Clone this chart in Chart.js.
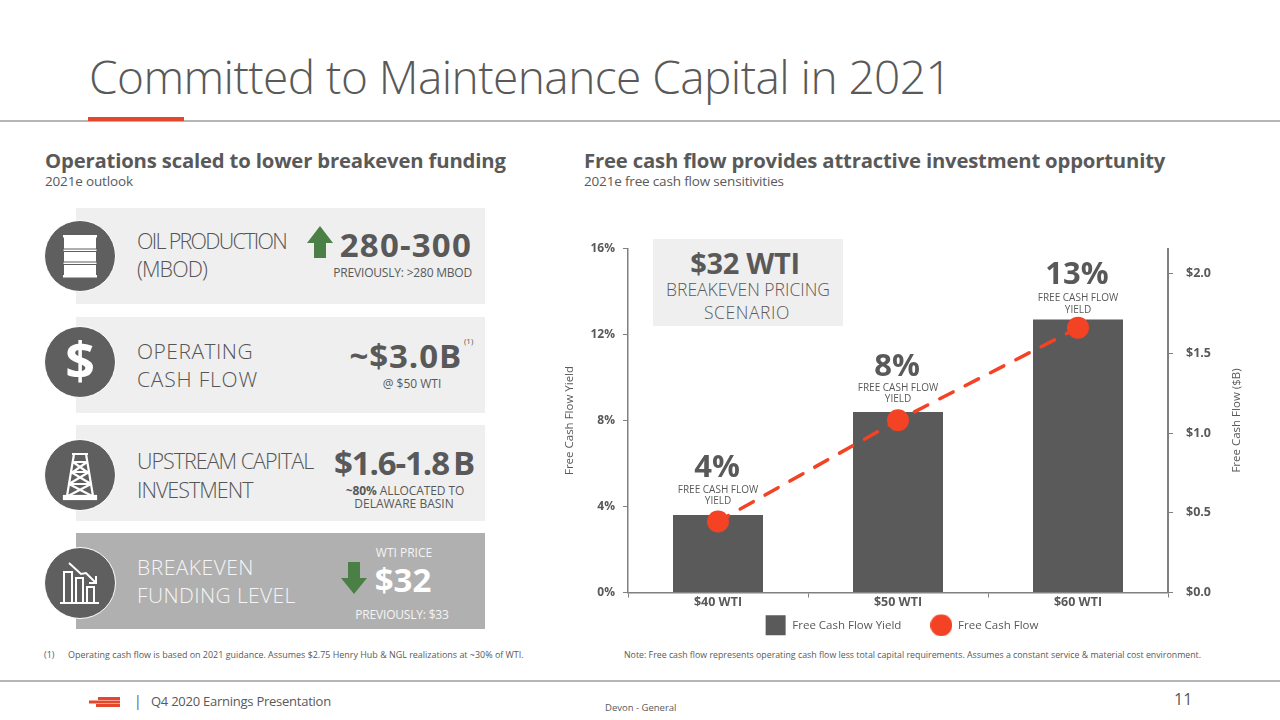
<!DOCTYPE html>
<html>
<head>
<meta charset="utf-8">
<script src="https://cdn.jsdelivr.net/npm/chart.js@4"></script>
<style>
html,body{margin:0;padding:0;background:#fff}
body{width:1280px;height:720px;position:relative;overflow:hidden;font-family:"Open Sans",sans-serif;color:#595959}
.t{position:absolute;white-space:nowrap;line-height:1;transform:translateY(-50%)}
.c{transform:translate(-50%,-50%)}
.b{font-weight:700}
.l{font-weight:300}
.box{position:absolute;left:76px;width:409px;height:96px;background:#efefef}
.disc{position:absolute;width:70px;height:70px;border-radius:50%;background:#5f5f5f;border:1.5px solid #fff;box-sizing:content-box}
.disc svg{position:absolute;left:0;top:0}
.big{font-weight:700;font-size:33px}
.lab{font-size:21px;font-weight:300;color:#555}
.sm{font-size:12px}
#wrap{position:absolute;left:558px;top:228px;width:687px;height:413px}
</style>
</head>
<body>
<div class="t l" style="left:89px;top:76px;font-size:46px;letter-spacing:-.55px;color:#595959">Committed to Maintenance Capital in 2021</div>
<div style="position:absolute;left:0;top:120px;width:1280px;height:2px;background:#b5b5b5"></div>
<div style="position:absolute;left:88px;top:117px;width:96px;height:4px;background:#e4472b"></div>

<div class="t b" style="left:45px;top:160px;font-size:20.3px;letter-spacing:-.17px">Operations scaled to lower breakeven funding</div>
<div class="t" style="left:45px;top:182px;font-size:13.5px;letter-spacing:-.16px">2021e outlook</div>
<div class="t b" style="left:584px;top:160px;font-size:20.3px;letter-spacing:-.18px">Free cash flow provides attractive investment opportunity</div>
<div class="t" style="left:584px;top:182px;font-size:13.5px;letter-spacing:-.17px">2021e free cash flow sensitivities</div>

<div class="box" style="top:208px"></div>
<div class="box" style="top:317px"></div>
<div class="box" style="top:425px"></div>
<div class="box" style="top:533px;background:#b0b0b0"></div>

<div class="disc" style="left:44px;top:220px"><svg width="70" height="70" fill="#fff">
<rect x="19" y="15" width="32" height="40"/><rect x="18" y="14" width="34" height="2.5"/><rect x="18" y="28" width="34" height="2.5" stroke="#5f5f5f" stroke-width="1"/><rect x="18" y="41" width="34" height="2.5" stroke="#5f5f5f" stroke-width="1"/><rect x="18" y="54" width="34" height="2.5"/></svg></div>
<div class="disc" style="left:44px;top:326px"><svg width="70" height="70"><text x="35" y="53" text-anchor="middle" font-family="Open Sans" font-weight="700" font-size="52" fill="#fff">$</text></svg></div>
<div class="disc" style="left:44px;top:439px"><svg width="70" height="70" fill="none" stroke="#fff" stroke-width="2.2">
<path d="M27 14h16M29 14L22 56M41 14L48 56M28 22h14M26 32h18M24 44h22M28 22L42 32M42 22L28 32M26 32L46 44M44 32L24 44M24 44L47 56M46 44L23 56"/><rect x="19" y="56" width="32" height="3" fill="#fff"/></svg></div>
<div class="disc" style="left:44px;top:547px"><svg width="70" height="70" fill="none" stroke="#fff" stroke-width="2">
<path d="M15 55h39M19 55V24h8v31M31 55V30h7v25M42 55V39h7v16"/><path d="M24 15l12 11 5-1 10 10M51 28v7h-7"/></svg></div>

<div class="t lab" style="left:137px;top:241px;font-size:21.5px;letter-spacing:-1.7px">OIL PRODUCTION</div>
<div class="t lab" style="left:137px;top:269px;font-size:21.5px;letter-spacing:-.9px">(MBOD)</div>
<div class="t lab" style="left:137px;top:351px;letter-spacing:.5px">OPERATING</div>
<div class="t lab" style="left:137px;top:379px;letter-spacing:.8px">CASH FLOW</div>
<div class="t lab" style="left:137px;top:461px;font-size:21.5px;letter-spacing:-1px">UPSTREAM CAPITAL</div>
<div class="t lab" style="left:137px;top:490px;font-size:21.5px;letter-spacing:-1px">INVESTMENT</div>
<div class="t lab" style="left:137px;top:567px;color:#f5f5f5;letter-spacing:.5px">BREAKEVEN</div>
<div class="t lab" style="left:137px;top:595px;color:#f5f5f5;letter-spacing:.4px">FUNDING LEVEL</div>

<svg style="position:absolute;left:0;top:0" width="1280" height="720" fill="#4a7f45">
<path d="M320 226L333 243H326V258H314V243H307Z"/>
<path d="M354 594L341 578H348V562H360V578H367Z"/>
</svg>

<div class="t big" style="right:808px;top:244px;letter-spacing:1.2px">280-300</div>
<div class="t sm" style="right:808px;top:273px;letter-spacing:-.2px">PREVIOUSLY: &gt;280 MBOD</div>
<div class="t big" style="right:818px;top:355px;letter-spacing:.9px">~$3.0B</div>
<div class="t" style="left:464px;top:341px;font-size:8px">(1)</div>
<div class="t sm c" style="left:412px;top:384px">@ $50 WTI</div>
<div class="t big" style="right:806px;top:462px;letter-spacing:-1.1px">$1.6-1.8<span style="margin-left:4px">B</span></div>
<div class="t sm c" style="left:405px;top:491px;letter-spacing:-.1px"><b>~80%</b> ALLOCATED TO</div>
<div class="t sm c" style="left:404px;top:504px">DELAWARE BASIN</div>
<div class="t sm c" style="left:404px;top:553px;color:#f5f5f5">WTI PRICE</div>
<div class="t big c" style="left:403px;top:579px;color:#fff">$32</div>
<div class="t sm c" style="left:402px;top:615px;color:#f5f5f5;letter-spacing:-.2px">PREVIOUSLY: $33</div>

<div class="t" style="left:44px;top:655px;font-size:8.95px">(1)</div>
<div class="t" style="left:68px;top:655px;font-size:8.95px">Operating cash flow is based on 2021 guidance. Assumes $2.75 Henry Hub &amp; NGL realizations at ~30% of WTI.</div>

<div style="position:absolute;left:653px;top:239px;width:190px;height:87px;background:#efefef"></div>
<div class="t b c" style="left:745px;top:262px;font-size:29px;letter-spacing:-.3px">$32 WTI</div>
<div class="t l c" style="left:748px;top:290px;font-size:17.5px">BREAKEVEN PRICING</div>
<div class="t l c" style="left:747px;top:313px;font-size:17.5px;letter-spacing:.6px">SCENARIO</div>

<div id="wrap"><canvas id="fcfChart"></canvas></div>

<div class="t" style="left:624px;top:655px;font-size:8.8px">Note: Free cash flow represents operating cash flow less total capital requirements. Assumes a constant service &amp; material cost environment.</div>

<div style="position:absolute;left:0;top:680px;width:1280px;height:1.5px;background:#b5b5b5"></div>
<svg style="position:absolute;left:88px;top:696px" width="34" height="12" fill="#e4472b">
<rect x="10" y="1" width="22" height="3"/><rect x="1" y="4.5" width="31" height="3"/><rect x="8" y="8" width="24" height="3"/></svg>
<div class="t" style="left:134px;top:701px;font-size:14px">|</div>
<div class="t" style="left:151px;top:701px;font-size:13px;letter-spacing:-.25px">Q4 2020 Earnings Presentation</div>
<div class="t" style="left:1174px;top:699px;font-size:16px">11</div>
<div class="t" style="left:605px;top:708px;font-size:9.5px">Devon - General</div>

<script>
const categories = ['$40 WTI', '$50 WTI', '$60 WTI'];
const fcfYield = [3.6, 8.4, 12.7];
const fcfBillions = [0.445, 1.08, 1.66];
const yieldLabels = ['4%', '8%', '13%'];
const yieldCaption = ['FREE CASH FLOW', 'YIELD'];
const seriesNames = ['Free Cash Flow Yield', 'Free Cash Flow'];
const rightTitle = 'Free Cash Flow ($B)';

const grey = '#5a5a5a';
const red = '#f44225';
const axisGrey = '#808080';

function legendMark(shape, color) {
    const c = document.createElement('canvas');
    c.width = 22; c.height = 22;
    const g = c.getContext('2d');
    g.fillStyle = color;
    if (shape === 'rect') {
        g.fillRect(1, 1, 20, 20);
    } else {
        g.beginPath();
        g.arc(11, 11, 11, 0, Math.PI * 2);
        g.fill();
    }
    return c;
}

// labels over the bars plus the right axis title, which reads upwards
const barLabels = {
    id: 'barLabels',
    afterDatasetsDraw(chart) {
        const ctx = chart.ctx;
        const yScale = chart.scales.y;
        const xScale = chart.scales.x;
        const bigLift = [2, 0, -1];
        const capLift = [1, 0, -3];
        ctx.save();
        ctx.textAlign = 'center';
        ctx.textBaseline = 'middle';
        ctx.fillStyle = '#595959';
        yieldLabels.forEach((label, i) => {
            const x = xScale.getPixelForValue(i);
            const top = yScale.getPixelForValue(fcfYield[i]);
            ctx.font = '700 31px "Open Sans"';
            ctx.fillText(label, x - 1, top - 45 - bigLift[i]);
            ctx.font = '10px "Open Sans"';
            yieldCaption.forEach((line, j) => {
                ctx.fillText(line, x, top - 24 + j * 11.5 - capLift[i]);
            });
        });
        const right = chart.scales.y1;
        ctx.translate(right.left + 69, (right.top + right.bottom) / 2);
        ctx.rotate(-Math.PI / 2);
        ctx.font = '11.5px "Open Sans"';
        ctx.fillText(rightTitle, 0, 0);
        ctx.restore();
    }
};

new Chart(document.getElementById('fcfChart'), {
    type: 'bar',
    data: {
        labels: categories,
        datasets: [{
            label: seriesNames[0],
            data: fcfYield,
            backgroundColor: grey,
            barPercentage: 0.5,
            categoryPercentage: 1,
            yAxisID: 'y',
            order: 2
        }, {
            type: 'line',
            label: seriesNames[1],
            data: fcfBillions,
            yAxisID: 'y1',
            borderColor: red,
            backgroundColor: red,
            borderWidth: 3.5,
            borderDash: [15, 13.5],
            borderDashOffset: 3,
            borderCapStyle: 'round',
            pointRadius: 11,
            pointBackgroundColor: red,
            pointBorderWidth: 0,
            tension: 0,
            order: 1
        }]
    },
    options: {
        responsive: true,
        maintainAspectRatio: false,
        animation: false,
        devicePixelRatio: 1,
        layout: { padding: 0 },
        scales: {
            x: {
                offset: true,
                grid: { display: true, drawOnChartArea: false, drawTicks: true, tickLength: 5, color: axisGrey, offset: true },
                border: { color: axisGrey, width: 1.5 },
                ticks: { color: '#595959', font: { family: 'Open Sans', weight: '700', size: 12.5 }, padding: -3 },
                afterFit(axis) { axis.height = 22; }
            },
            y: {
                position: 'left',
                min: 0,
                max: 16,
                grid: { display: true, drawOnChartArea: false, tickLength: 5, color: axisGrey },
                border: { color: axisGrey, width: 1.5 },
                ticks: {
                    stepSize: 4,
                    padding: 8,
                    color: '#595959',
                    font: { family: 'Open Sans', weight: '700', size: 12 },
                    callback: v => v + '%'
                },
                title: { display: true, text: 'Free Cash Flow Yield', color: '#595959', font: { family: 'Open Sans', size: 11.5 }, padding: { top: 5, bottom: 0 } },
                afterFit(axis) { axis.width = 70; }
            },
            y1: {
                position: 'right',
                min: 0,
                max: 2.157,
                grid: { display: true, drawOnChartArea: false, tickLength: 5, color: axisGrey },
                border: { color: axisGrey, width: 2 },
                ticks: {
                    stepSize: 0.5,
                    includeBounds: false,
                    padding: 13,
                    color: '#595959',
                    font: { family: 'Open Sans', weight: '700', size: 12.5 },
                    callback: v => '$' + v.toFixed(1)
                },
                afterFit(axis) { axis.width = 77; }
            }
        },
        plugins: {
            tooltip: { enabled: false },
            legend: {
                position: 'bottom',
                labels: {
                    usePointStyle: true,
                    pointStyleWidth: 22,
                    color: '#595959',
                    padding: 5,
                    font: { family: 'Open Sans', size: 11.5 },
                    generateLabels() {
                        return seriesNames.map((name, i) => ({
                            text: i === 0 ? name + '        ' : name,
                            datasetIndex: i,
                            fontColor: '#595959',
                            lineWidth: 0,
                            pointStyle: legendMark(i === 0 ? 'rect' : 'circle', i === 0 ? grey : red)
                        }));
                    }
                }
            }
        }
    },
    plugins: [barLabels]
});
</script>
</body>
</html>
